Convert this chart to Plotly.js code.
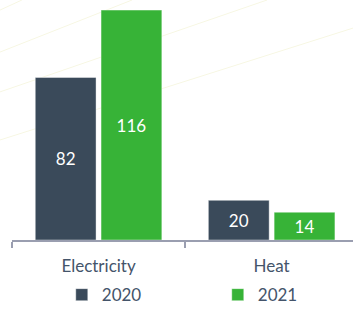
<!DOCTYPE html>
<html>
<head>
<meta charset="utf-8">
<script src="https://cdn.plot.ly/plotly-3.0.1.min.js"></script>
<style>
html,body{margin:0;padding:0;background:#fff;}
#chart{width:353px;height:309px;}
</style>
</head>
<body>
<div id="chart"></div>
<script>
var categories = ["Electricity", "Heat"];
var seriesNames = ["2020", "2021"];
var values2020 = [82, 20];
var values2021 = [116, 14];
var colors = ["#3a4a5a", "#37b337"];

var FONT = "Lato, 'Open Sans', sans-serif";
var TEXTCOL = "#44546a";

function mk(name, vals, color) {
  return {
    type: "bar",
    name: name,
    x: categories,
    y: vals,
    text: vals.map(String),
    textposition: "inside",
    insidetextanchor: "middle",
    textangle: 0,
    constraintext: "none",
    textfont: {family: FONT, size: 17, color: "#ffffff"},
    marker: {color: color, line: {color: "rgba(255,255,255,0.4)", width: 1}},
    hoverinfo: "none"
  };
}

var data = [
  mk(seriesNames[0], values2020, colors[0]),
  mk(seriesNames[1], values2021, colors[1])
];

var deco = "#f7f7e3";
function decoLine(x0, y0, x1, y1) {
  return {type: "line", xref: "paper", yref: "paper", x0: x0, y0: y0, x1: x1, y1: y1,
          layer: "below", line: {color: deco, width: 1}};
}

var layout = {
  width: 353,
  height: 309,
  margin: {l: 12, r: 0, t: 0, b: 69, pad: 0, autoexpand: false},
  paper_bgcolor: "#ffffff",
  plot_bgcolor: "rgba(0,0,0,0)",
  barmode: "group",
  bargap: 0.24,
  bargroupgap: 0.076,
  showlegend: true,
  font: {family: FONT, size: 17, color: TEXTCOL},
  xaxis: {
    type: "category",
    range: [-0.5, 1.47],
    showline: true,
    linecolor: "#9a9eb0",
    linewidth: 2,
    ticks: "outside",
    tickson: "boundaries",
    ticklen: 6,
    tickwidth: 2,
    tickcolor: "#9a9eb0",
    ticklabelstandoff: 10,
    tickfont: {family: FONT, size: 17, color: TEXTCOL},
    showgrid: false,
    zeroline: false,
    automargin: false,
    fixedrange: true
  },
  yaxis: {
    range: [0, 121.1],
    visible: false,
    showgrid: false,
    zeroline: false,
    fixedrange: true
  },
  legend: {
    orientation: "h",
    xref: "container",
    yref: "container",
    x: 0.175,
    xanchor: "left",
    y: 0.045,
    yanchor: "middle",
    entrywidth: 111,
    entrywidthmode: "pixels",
    itemwidth: 30,
    font: {family: FONT, size: 17, color: TEXTCOL},
    bgcolor: "rgba(0,0,0,0)"
  },
  shapes: [
    decoLine(-0.0352, 0.783, 0.352, 1.0),
    decoLine(-0.0352, 0.617, 0.748, 1.0),
    decoLine(-0.0352, 0.4167, 1.0, 0.883),
    decoLine(-0.0352, 0.958, 0.029, 1.0)
  ]
};

Plotly.newPlot("chart", data, layout, {displayModeBar: false, staticPlot: true});
</script>
</body>
</html>
